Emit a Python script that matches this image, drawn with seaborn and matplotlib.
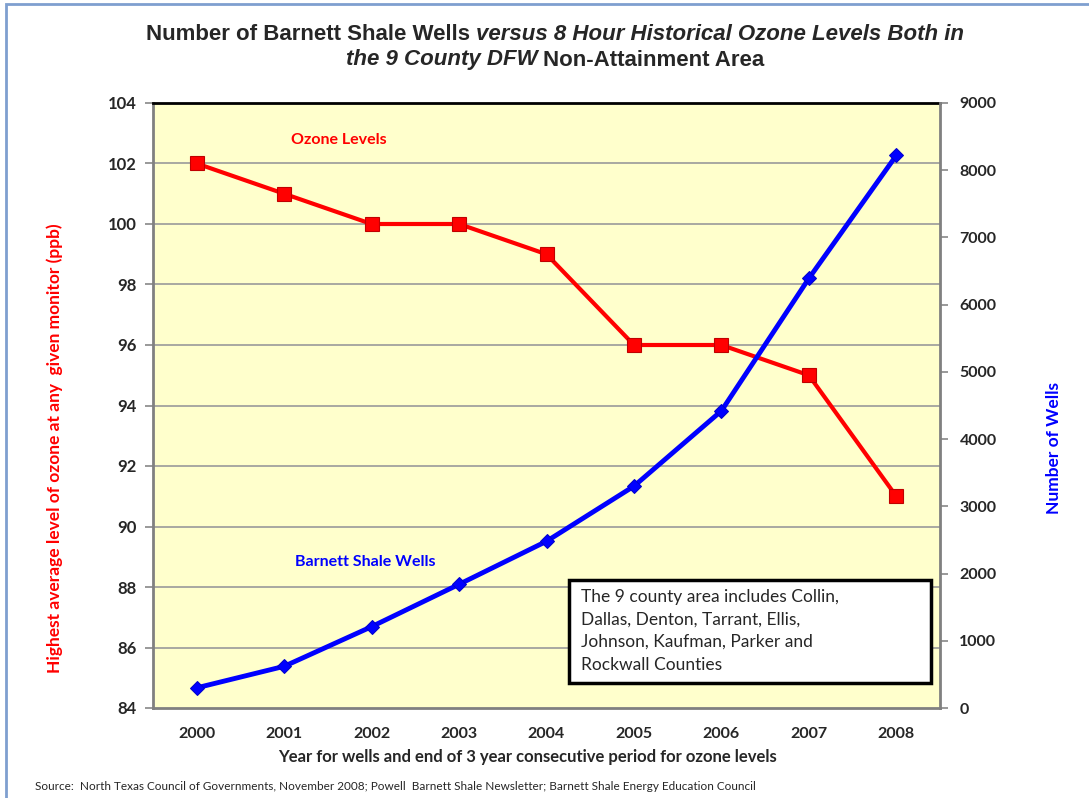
import matplotlib
matplotlib.use("Agg")
import matplotlib.pyplot as plt
import seaborn as sns
import pandas as pd
from matplotlib.patches import Rectangle

years = ["2000", "2001", "2002", "2003", "2004", "2005", "2006", "2007", "2008"]
ozone = [102, 101, 100, 100, 99, 96, 96, 95, 91]
wells = [300, 620, 1210, 1840, 2480, 3300, 4420, 6390, 8220]
left_ticks = [84, 86, 88, 90, 92, 94, 96, 98, 100, 102, 104]
right_ticks = [0, 1000, 2000, 3000, 4000, 5000, 6000, 7000, 8000, 9000]

sns.set_theme(style="white")
plt.rcParams['font.family'] = ['Lato', 'DejaVu Sans']

df = pd.DataFrame({"x": list(range(len(years))), "ozone": ozone, "wells": wells})

fig = plt.figure(figsize=(10.89, 7.98), dpi=100)
ax = fig.add_axes([153/1089, 1 - 708/798, (940-153)/1089, (708-103)/798])
ax.set_facecolor("#FFFFCC")
ax2 = ax.twinx()

for y in left_ticks[1:-1]:
    ax.axhline(y, color="#9a9a9a", lw=1.2, zorder=0)

sns.lineplot(data=df, x="x", y="ozone", ax=ax, color="#FF0000", lw=3,
             marker="s", markersize=10, markeredgecolor="#C00000", markeredgewidth=0.8, zorder=3)
sns.lineplot(data=df, x="x", y="wells", ax=ax2, color="#0000FF", lw=3.5,
             marker="D", markersize=7, markeredgecolor="#0000CC", zorder=3)

ax.set_xlim(-0.5, len(years) - 0.5)
ax.set_ylim(84, 104)
ax2.set_ylim(0, 9000)
ax.set_yticks(left_ticks)
ax.set_yticklabels([str(v) for v in left_ticks], fontsize=12, fontweight="bold")
ax2.set_yticks(right_ticks)
ax2.set_yticklabels([str(v) for v in right_ticks], fontsize=11.5, fontweight="bold")
ax.set_xticks(range(len(years)))
ax.set_xticklabels(years, fontsize=11.5, fontweight="bold")
ax.tick_params(axis="x", length=0, pad=14)
ax.set_xticks([i - 0.5 for i in range(len(years) + 1)], minor=True)
ax.tick_params(axis="x", which="minor", length=6, color="#888888", direction="out", width=1.2)
ax.tick_params(axis="y", length=6, color="#888888", direction="out", width=1.2, pad=6, left=True)
ax2.tick_params(axis="y", length=6, color="#888888", direction="out", width=1.2, pad=8, right=True)

for a in (ax, ax2):
    for s in a.spines.values():
        s.set_visible(False)
ax.spines["left"].set_visible(True)
ax.spines["left"].set_color("#808080")
ax.spines["left"].set_linewidth(2)
ax.spines["bottom"].set_visible(True)
ax.spines["bottom"].set_color("#808080")
ax.spines["bottom"].set_linewidth(2)
ax.spines["top"].set_visible(True)
ax.spines["top"].set_color("black")
ax.spines["top"].set_linewidth(2)
ax2.spines["right"].set_visible(True)
ax2.spines["right"].set_color("#808080")
ax2.spines["right"].set_linewidth(2)

ax.set_xlabel("Year for wells and end of 3 year consecutive period for ozone levels",
              fontsize=12, fontweight="bold")
ax.xaxis.set_label_coords((528 - 153) / 787, -(749 - 708) / 605)
ax.set_ylabel("Highest average level of ozone at any  given monitor (ppb)",
              fontsize=12.5, fontweight="bold", color="#FF0000")
ax.yaxis.set_label_coords(-(153 - 63) / 787, (708 - 448) / 605)
ax2.set_ylabel("Number of Wells", fontsize=12.5, fontweight="bold", color="#0000FF")
ax2.yaxis.set_label_coords(1 + (1046 - 940) / 787, (708 - 448) / 605)

ax.text((339 - 153) / 787, (708 - 140) / 605, "Ozone Levels", transform=ax.transAxes, color="#FF0000",
        fontsize=11.5, fontweight="bold", ha="center", va="center")
ax.text((365 - 153) / 787, (708 - 562) / 605, "Barnett Shale Wells", transform=ax.transAxes, color="#0000FF",
        fontsize=11.5, fontweight="bold", ha="center", va="center")

ax.add_patch(Rectangle(((569 - 153) / 787, (708 - 683) / 605), (931 - 569) / 787, (683 - 580) / 605,
                       transform=ax.transAxes, facecolor="white", edgecolor="black", linewidth=2.5, zorder=5))
ax.text((581 - 153) / 787, (708 - 589) / 605,
        "The 9 county area includes Collin,\nDallas, Denton, Tarrant, Ellis,\nJohnson, Kaufman, Parker and\nRockwall Counties",
        transform=ax.transAxes, fontsize=12.5, ha="left", va="top", linespacing=1.5, zorder=6)

title_font = ['Liberation Sans Narrow', 'Liberation Sans', 'DejaVu Sans']

def runs(y, parts):
    renderer = fig.canvas.get_renderer()
    texts = []
    total = 0
    for s, style in parts:
        t = fig.text(0, y, s, fontsize=16, fontweight="bold", style=style,
                     family=title_font, ha="left", va="center")
        w = t.get_window_extent(renderer).width
        texts.append((t, w))
        total += w
    x = 555 - total / 2
    for t, w in texts:
        t.set_x(x / 1089)
        x += w

runs(1 - 35 / 798, [("Number of Barnett Shale Wells ", "normal"),
                    ("versus 8 Hour Historical Ozone Levels Both in", "italic")])
runs(1 - 60 / 798, [("the 9 County DFW ", "italic"), ("Non-Attainment Area", "normal")])

fig.text(35/1089, 1 - 786/798, "Source:  North Texas Council of Governments, November 2008; Powell  Barnett Shale Newsletter; Barnett Shale Energy Education Council",
         fontsize=8.5, ha="left", va="center")

fig.patches.append(Rectangle((6/1089, -0.01), 1.2, 1.0 - 4/798 + 0.01, transform=fig.transFigure,
                             fill=False, edgecolor="#7f9fcf", linewidth=2))

fig.savefig("out.png", dpi=100)
